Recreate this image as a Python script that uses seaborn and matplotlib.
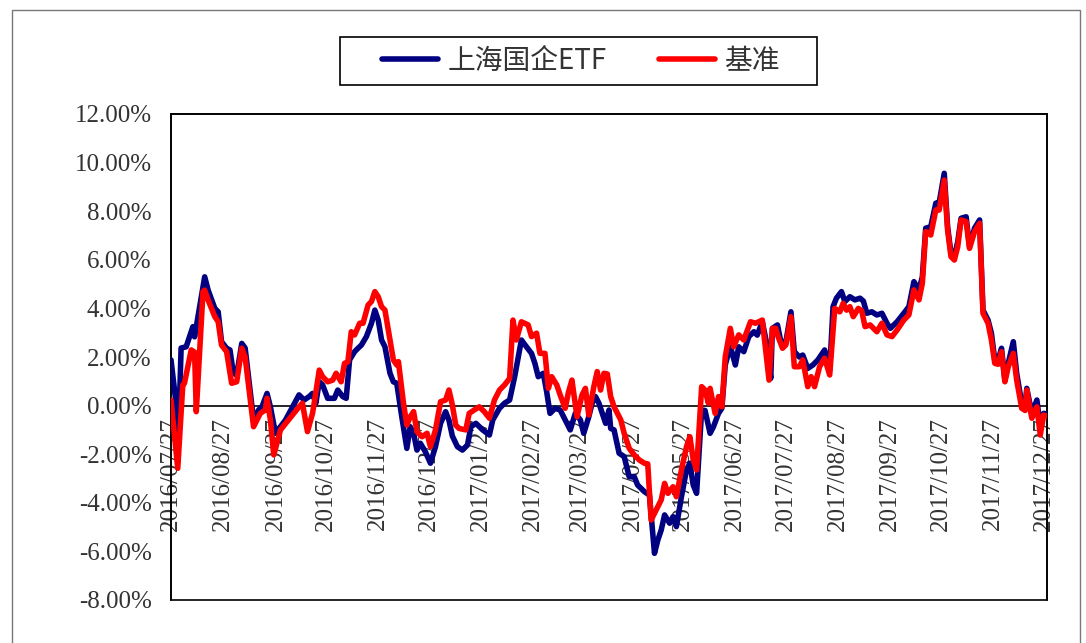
import matplotlib
matplotlib.use("Agg")
import matplotlib.pyplot as plt
import matplotlib.dates as mdates
from matplotlib.patches import Rectangle
from matplotlib.ticker import FuncFormatter, MultipleLocator
import pandas as pd
import seaborn as sns

# days counted from 2016/07/27, cumulative excess return in %
start = pd.Timestamp("2016-07-27")

etf_day = [0, 3, 4, 6, 9, 13, 14, 20, 22, 26,
           28, 30, 33, 35, 37, 39, 42, 44, 49, 52,
           54, 57, 59, 62, 68, 76, 79, 82, 84, 86,
           88, 90, 93, 97, 99, 102, 104, 106, 109, 111,
           113, 116, 119, 121, 123, 125, 127, 130, 132, 134,
           137, 140, 142, 144, 146, 148, 151, 154, 157, 160,
           163, 165, 167, 170, 173, 176, 178, 181, 185, 189,
           191, 195, 198, 201, 204, 206, 208, 211, 214, 216,
           218, 221, 223, 225, 228, 231, 234, 237, 240, 243,
           245, 248, 250, 252, 254, 258, 260, 261, 263, 266,
           269, 272, 275, 277, 281, 284, 287, 289, 291, 293,
           296, 298, 300, 303, 306, 308, 310, 312, 315, 317,
           320, 322, 325, 327, 329, 332, 335, 337, 340, 343,
           346, 348, 351, 354, 356, 357, 360, 362, 365, 368,
           370, 373, 375, 378, 381, 384, 388, 391, 393, 395,
           398, 400, 403, 406, 409, 411, 413, 416, 419, 422,
           425, 427, 431, 435, 438, 441, 444, 446, 448, 451,
           454, 456, 459, 461, 463, 465, 467, 469, 472, 474,
           477, 480, 482, 485, 487, 489, 491, 493, 495, 497,
           500, 502, 505, 507, 508, 511, 514, 516, 518, 520]
etf_ret = [1.88, 0.10, -2.30, 2.37, 2.42, 3.25, 2.83, 5.30, 4.76, 4.00,
           3.86, 2.63, 2.36, 2.29, 1.33, 1.26, 2.56, 2.37, -0.59, -0.18,
           -0.05, 0.50, -0.05, -1.14, -0.59, 0.44, 0.23, 0.37, 0.50, 0.10,
           0.98, 0.85, 0.30, 0.30, 0.64, 0.37, 0.30, 1.88, 2.22, 2.36,
           2.49, 2.84, 3.39, 3.93, 3.52, 2.70, 2.42, 1.33, 0.98, 0.92,
           -0.46, -1.76, -0.87, -1.14, -1.83, -1.55, -1.90, -2.37, -1.69, -0.73,
           -0.25, -0.60, -1.25, -1.69, -1.83, -1.62, -0.87, -0.73, -1.00, -1.21,
           -0.59, -0.11, 0.10, 0.23, 1.19, 1.95, 2.70, 2.42, 2.15, 1.74,
           1.19, 1.33, 0.57, -0.32, -0.11, -0.18, -0.59, -1.00, -0.32, -0.59,
           -1.14, -0.46, 0.10, 0.37, 0.10, -0.73, -0.18, -0.94, -1.00, -1.96,
           -2.10, -2.93, -2.93, -3.27, -3.54, -3.68, -6.08, -5.53, -5.12, -4.50,
           -4.84, -4.57, -4.98, -3.75, -2.65, -2.37, -3.27, -3.61, -0.18, -0.20,
           -1.14, -0.87, -0.32, -0.11, 1.67, 2.45, 1.67, 2.42, 2.22, 2.84,
           3.04, 2.90, 3.45, 2.42, 1.12, 3.18, 3.32, 2.63, 2.63, 3.86,
           2.22, 2.00, 2.08, 1.53, 1.67, 1.88, 2.29, 1.46, 4.07, 4.42,
           4.69, 4.28, 4.48, 4.35, 4.42, 4.30, 3.80, 3.86, 3.73, 3.80,
           3.39, 3.18, 3.45, 3.80, 4.07, 5.10, 4.76, 5.30, 7.30, 7.36,
           8.33, 8.35, 9.56, 7.36, 6.27, 6.13, 6.74, 7.71, 7.77, 6.54,
           7.30, 7.64, 3.93, 3.52, 2.98, 1.88, 1.88, 2.36, 1.05, 1.74,
           2.63, 1.33, 0.10, -0.11, 0.71, -0.32, 0.23, -0.87, -0.32, -0.35]

bench_day = [0, 4, 7, 8, 12, 14, 15, 19, 20, 22,
             26, 28, 30, 33, 36, 39, 42, 44, 49, 53,
             56, 57, 59, 61, 65, 76, 78, 81, 84, 85,
             88, 90, 93, 96, 98, 101, 103, 105, 107, 109,
             112, 114, 117, 119, 121, 123, 125, 127, 129, 132,
             134, 135, 138, 140, 142, 144, 146, 149, 152, 154,
             157, 160, 163, 165, 167, 169, 171, 175, 177, 180,
             183, 186, 189, 192, 195, 198, 201, 203, 205, 208,
             212, 214, 217, 219, 222, 224, 226, 229, 231, 234,
             236, 238, 241, 244, 246, 248, 251, 253, 255, 257,
             259, 261, 263, 267, 269, 272, 275, 278, 281, 283,
             285, 288, 291, 293, 295, 298, 300, 303, 306, 308,
             310, 312, 315, 317, 319, 320, 323, 325, 327, 329,
             332, 334, 337, 340, 344, 347, 351, 355, 357, 359,
             360, 363, 365, 368, 370, 373, 375, 378, 380, 382,
             385, 388, 391, 394, 397, 399, 401, 403, 405, 408,
             410, 412, 415, 419, 422, 425, 428, 431, 435, 438,
             441, 444, 446, 448, 451, 454, 456, 459, 461, 463,
             465, 467, 469, 472, 474, 477, 480, 482, 485, 487,
             489, 491, 493, 495, 497, 500, 502, 505, 507, 508,
             511, 514, 516, 518, 520]
bench_ret = [0.23, -2.58, 0.85, 0.92, 2.29, 2.20, -0.25, 4.69, 4.75, 4.35,
             3.66, 3.45, 2.49, 2.22, 0.92, 0.98, 2.36, 2.00, -0.87, -0.32,
             -0.18, 0.30, -0.59, -2.03, -1.00, -0.05, 0.10, -1.07, -0.32, 0.10,
             1.46, 1.19, 0.98, 1.05, 1.33, 0.98, 1.74, 1.80, 3.04, 2.91,
             3.39, 3.39, 4.14, 4.28, 4.69, 4.48, 4.07, 3.93, 3.11, 1.88,
             1.67, 1.81, 0.10, -0.80, -0.46, -0.25, -1.07, -1.28, -1.14, -1.69,
             -1.00, 0.16, 0.23, 0.64, 0.03, -0.80, -0.94, -1.00, -0.32, -0.18,
             -0.05, -0.25, -0.52, 0.23, 0.64, 0.85, 1.12, 3.52, 2.70, 3.45,
             3.32, 2.84, 2.98, 2.15, 2.15, 0.71, 1.19, 0.85, 0.44, -0.11,
             0.57, 1.05, -0.46, 0.44, 0.71, -0.39, 0.78, 1.40, 0.64, 1.33,
             1.30, 0.37, -0.05, -0.59, -1.14, -1.76, -2.03, -2.24, -2.37, -2.40,
             -4.71, -4.30, -3.88, -3.20, -3.61, -3.34, -3.75, -2.65, -1.69, -1.28,
             -2.24, -2.65, 0.78, 0.64, 0.10, 0.71, -0.32, 0.37, -0.05, 2.00,
             3.18, 2.42, 2.91, 2.70, 3.45, 3.39, 3.52, 1.05, 3.18, 3.18,
             2.91, 2.36, 2.50, 3.66, 1.60, 1.60, 1.88, 0.78, 1.19, 0.78,
             1.60, 1.95, 1.26, 4.00, 3.86, 4.21, 3.93, 4.07, 3.66, 4.00,
             3.90, 3.25, 3.32, 3.04, 3.39, 2.91, 2.84, 3.11, 3.52, 3.73,
             4.76, 4.35, 5.03, 7.16, 7.02, 8.05, 8.05, 9.28, 7.22, 6.13,
             5.99, 6.54, 7.64, 7.57, 6.47, 7.16, 7.50, 3.80, 3.39, 2.70,
             1.74, 1.70, 2.22, 0.98, 1.60, 2.15, 1.05, -0.11, -0.20, 0.64,
             -0.52, -0.05, -1.21, -0.39, -0.45]

etf = pd.DataFrame({"date": start + pd.to_timedelta(etf_day, unit="D"), "ret": etf_ret})
bench = pd.DataFrame({"date": start + pd.to_timedelta(bench_day, unit="D"), "ret": bench_ret})

sns.set_style("white")
plt.rcParams["font.family"] = ["Liberation Serif", "DejaVu Serif"]

W, H = 1086, 643
fig = plt.figure(figsize=(W / 100, H / 100), dpi=100)
ax = fig.add_axes([171 / W, 1 - 600 / H, 876 / W, 486 / H])

sns.lineplot(data=etf, x="date", y="ret", color="#000080", lw=4.0, ax=ax,
             label="上海国企ETF", zorder=3)
sns.lineplot(data=bench, x="date", y="ret", color="#ff0000", lw=4.0, ax=ax,
             label="基准", zorder=4)

ax.set_xlim(start, start + pd.Timedelta(days=520))
ax.set_ylim(-8, 12)
ax.set_xlabel("")
ax.set_ylabel("")
ax.yaxis.set_major_locator(MultipleLocator(2))
ax.yaxis.set_major_formatter(FuncFormatter(lambda v, p: f"{v:.2f}%"))
ax.xaxis.set_major_locator(mdates.MonthLocator(bymonthday=27))
ax.xaxis.set_major_formatter(mdates.DateFormatter("%Y/%m/%d"))

for s in ax.spines.values():
    s.set_color("black")
    s.set_linewidth(1.2)
ax.spines["bottom"].set_position(("data", 0))
ax.add_patch(Rectangle((0, 0), 1, 1, transform=ax.transAxes, fill=False,
                       ec="black", lw=1.2, clip_on=False))
ax.tick_params(axis="x", direction="in", length=5, width=1, rotation=90,
               labelsize=18, pad=8, colors="black")
ax.tick_params(axis="y", direction="in", length=5, width=1,
               labelsize=18, pad=14, colors="black")
for lab in ax.get_xticklabels() + ax.get_yticklabels():
    lab.set_color("#333333")

handles, labels = ax.get_legend_handles_labels()
ax.get_legend().remove()
fig.legend(handles, labels, loc="center", bbox_to_anchor=(581 / W, 1 - 61 / H),
           ncol=2, frameon=False, handlelength=2.0, handletextpad=0.35,
           columnspacing=1.9,
           prop={"family": ["Noto Sans CJK SC", "DejaVu Sans"], "size": 20})
for t in fig.legends[0].get_texts():
    t.set_color("#333333")

# legend box and outer chart frame
fig.add_artist(Rectangle((340 / W, 1 - 85 / H), 477 / W, 48 / H,
                         transform=fig.transFigure, fill=False, ec="black", lw=1.2))
fig.add_artist(Rectangle((12 / W, -0.02), 1068 / W, 1 - 10 / H + 0.02,
                         transform=fig.transFigure, fill=False, ec="#777777", lw=1))

fig.savefig("out.png", dpi=100)
